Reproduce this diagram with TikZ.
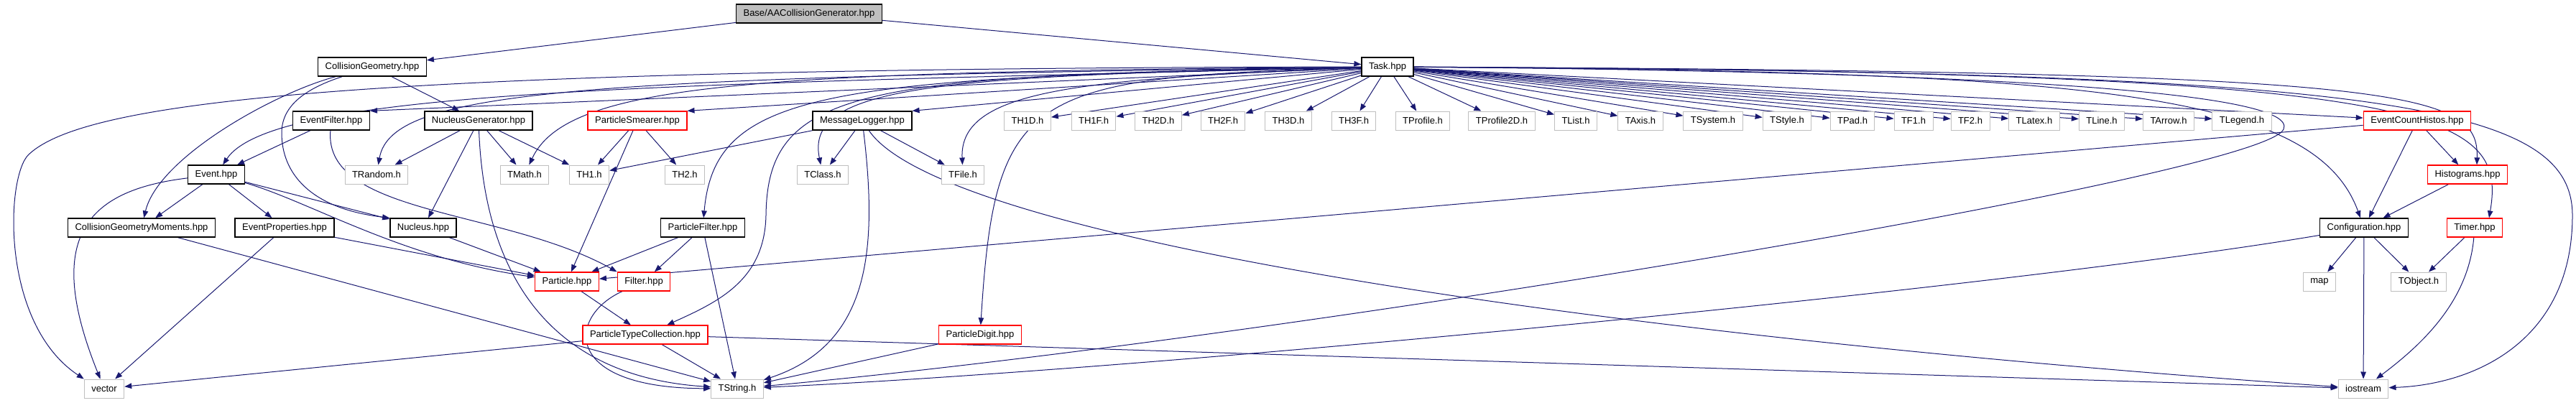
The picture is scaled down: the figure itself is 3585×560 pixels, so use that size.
\documentclass[tikz,border=0pt]{standalone}
\usepackage{fontspec}
\setmainfont{Liberation Sans}
\usetikzlibrary{arrows.meta,backgrounds}
\definecolor{edgeblue}{RGB}{25,25,112}
\definecolor{boxgrey}{RGB}{191,191,191}

\begin{document}
\begin{tikzpicture}[x=1pt,y=-1pt,font=\fontsize{13}{15}\selectfont,
  >={Triangle[length=10pt,width=7.5pt]},
  file/.style={draw=black,line width=1.3pt,fill=white,minimum height=26pt,inner xsep=10pt,inner ysep=0pt},
  trunc/.style={file,draw=red},
  sys/.style={file,draw=boxgrey,line width=1pt},
  incl/.style={->,edgeblue,line width=1pt}]
  \useasboundingbox (0,0) rectangle (3585,560);

  \node[file,fill=boxgrey] (base) at (1126,19) {Base/AACollisionGenerator.hpp};
  \node[file] (collgeo) at (518,93) {CollisionGeometry.hpp};
  \node[file] (task) at (1931,93) {Task.hpp};

  \node[file] (evfilter) at (461,168) {EventFilter.hpp};
  \node[file] (nuclgen) at (666,168) {NucleusGenerator.hpp};
  \node[trunc] (smearer) at (887,168) {ParticleSmearer.hpp};
  \node[file] (logger) at (1200,168) {MessageLogger.hpp};
  \foreach \x/\name in {1430/TH1D,1522/TH1F,1612/TH2D,1702/TH2F,1793/TH3D,1884/TH3F,1980/TProfile,
      2090/TProfile2D,2193/TList,2283/TAxis,2384/TSystem,2487/TStyle,2578/TPad,2663/TF1,2742/TF2,
      2831/TLatex,2925/TLine,3018/TArrow,3120/TLegend}
    \node[sys] (\name) at (\x,168) {\name.h};
  \node[trunc] (cnthistos) at (3364,168) {EventCountHistos.hpp};

  \node[file] (event) at (301,243) {Event.hpp};
  \node[sys] (TRandom) at (524,243) {TRandom.h};
  \node[sys] (TMath) at (730,243) {TMath.h};
  \node[sys] (TH1) at (820,243) {TH1.h};
  \node[sys] (TH2) at (953,243) {TH2.h};
  \node[sys] (TClass) at (1145,243) {TClass.h};
  \node[sys] (TFile) at (1340,243) {TFile.h};
  \node[trunc] (histos) at (3434,243) {Histograms.hpp};

  \node[file] (moments) at (197,317) {CollisionGeometryMoments.hpp};
  \node[file] (evprops) at (396,317) {EventProperties.hpp};
  \node[file] (nucleus) at (589,317) {Nucleus.hpp};
  \node[file] (partfilter) at (978,317) {ParticleFilter.hpp};
  \node[file] (config) at (3290,317) {Configuration.hpp};
  \node[trunc] (timer) at (3444,317) {Timer.hpp};

  \node[trunc] (particle) at (789,392) {Particle.hpp};
  \node[trunc] (filter) at (896,392) {Filter.hpp};
  \node[sys] (map) at (3228,392) {map};
  \node[sys] (TObject) at (3366,392) {TObject.h};

  \node[trunc] (ptypes) at (898,466) {ParticleTypeCollection.hpp};
  \node[trunc] (digit) at (1364,466) {ParticleDigit.hpp};

  \node[sys] (vector) at (145,541) {vector};
  \node[sys] (TString) at (1026,541) {TString.h};
  \node[sys] (iostream) at (3289,541) {iostream};

  \begin{scope}[on background layer]
  % straight includes
  \foreach \name in {TH1D,TH1F,TH2D,TH2F,TH3D,TH3F,TProfile,TProfile2D,TList,TAxis,TSystem,
      TStyle,TPad,TF1,TF2,TLatex,TLine,TArrow,TLegend,cnthistos}
    \draw[incl] (task) -- (\name);
  \foreach \a/\b in {base/collgeo,base/task,collgeo/nuclgen,evfilter/event,
      nuclgen/TRandom,nuclgen/TMath,nuclgen/TH1,nuclgen/nucleus,
      smearer/TH1,smearer/TH2,smearer/particle,logger/TH1,logger/TClass,logger/TFile,
      event/moments,event/evprops,event/nucleus,evprops/particle,evprops/vector,
      moments/TString,nucleus/particle,partfilter/particle,partfilter/filter,partfilter/TString,
      particle/ptypes,ptypes/vector,ptypes/TString,ptypes/iostream,digit/TString,
      cnthistos/particle,cnthistos/config,cnthistos/histos,histos/config,
      config/map,config/TObject,config/iostream,timer/TObject}
    \draw[incl] (\a) -- (\b);
  \draw[incl] (task) -- (evfilter.north east);
  \draw[incl] (task) -- (smearer.north east);
  \draw[incl] (task) -- (logger.north east);

  % Task.hpp bundle to the left
  \draw[incl] (task) .. controls (500,95) and (120,140) .. (40,215) .. controls (8,245) and (0,450) .. (vector.north west);
  \draw[incl] (task) .. controls (900,118) and (380,125) .. (event);
  \draw[incl] (task) .. controls (800,108) and (545,125) .. (TRandom);
  \draw[incl] (task) .. controls (1050,100) and (790,115) .. (TMath);
  \draw[incl] (task) .. controls (1300,105) and (1120,120) .. (TClass);
  \draw[incl] (task) .. controls (1500,110) and (1335,125) .. (TFile);
  \draw[incl] (task) .. controls (1150,108) and (995,125) .. (partfilter);
  \draw[incl] (task) .. controls (1200,105) and (1068,120) .. (1066,300) .. controls (1064,390) and (1000,420) .. (ptypes);
  \draw[incl] (task) .. controls (1430,108) and (1385,125) .. (digit);

  % Task.hpp bundle to the right
  \draw[incl] (task) .. controls (2800,100) and (3200,130) .. (3178,180) .. controls (3150,244) and (1800,470) .. (TString);
  \draw[incl] (task) .. controls (2900,100) and (3220,125) .. (config);
  \draw[incl] (task) .. controls (3350,100) and (3450,125) .. ([xshift=13pt]histos.north);
  \draw[incl] (task) .. controls (3380,100) and (3490,150) .. ([xshift=20pt]timer.north);
  \draw[incl] (task) .. controls (3300,100) and (3580,140) .. (3580,300) .. controls (3580,470) and (3450,535) .. (iostream);

  % other bends
  \draw[incl] (collgeo) .. controls (380,130) and (220,220) .. (moments);
  \draw[incl] (collgeo) .. controls (420,125) and (392,150) .. (392,185) .. controls (392,240) and (430,290) .. (nucleus.north west);
  \draw[incl] (evfilter) .. controls (450,300) and (700,290) .. (filter.north west);
  \draw[incl] (nuclgen) .. controls (675,400) and (780,525) .. (TString);
  \draw[incl] (logger) .. controls (1222,350) and (1210,480) .. (TString);
  \draw[incl] (logger) .. controls (1310,330) and (2200,465) .. (iostream);
  \draw[incl] (filter) .. controls (790,440) and (780,540) .. (TString);
  \draw[incl] (event) .. controls (120,265) and (60,330) .. (vector);
  \draw[incl] (event) .. controls (430,280) and (560,360) .. (particle);
  \draw[incl] (config) .. controls (2800,400) and (1600,515) .. (TString);
  \draw[incl] (timer) .. controls (3435,420) and (3370,480) .. (iostream);
  \end{scope}
\end{tikzpicture}
\end{document}
